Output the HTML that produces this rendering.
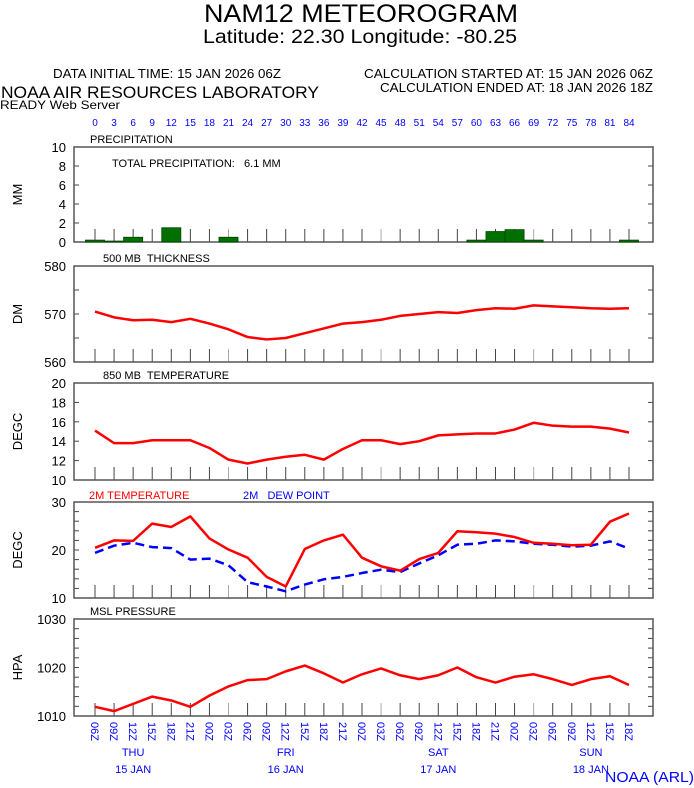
<!DOCTYPE html>
<html><head><meta charset="utf-8"><style>
body{margin:0;background:#fff}
svg{display:block;font-family:"Liberation Sans",Arial,sans-serif}
svg text{white-space:pre}
</style></head><body>
<svg id="chart" width="694" height="788" viewBox="0 0 694 788" xmlns="http://www.w3.org/2000/svg">
<text x="204" y="22" font-size="25" textLength="314" lengthAdjust="spacingAndGlyphs">NAM12 METEOROGRAM</text>
<text x="203" y="43" font-size="19" textLength="314" lengthAdjust="spacingAndGlyphs">Latitude: 22.30 Longitude: -80.25</text>
<text x="53" y="78" font-size="13" textLength="228" lengthAdjust="spacingAndGlyphs">DATA INITIAL TIME: 15 JAN 2026 06Z</text>
<text x="364" y="78" font-size="13" textLength="289" lengthAdjust="spacingAndGlyphs">CALCULATION STARTED AT: 15 JAN 2026 06Z</text>
<text x="380" y="92" font-size="13" textLength="273" lengthAdjust="spacingAndGlyphs">CALCULATION ENDED AT: 18 JAN 2026 18Z</text>
<text x="1" y="98" font-size="17" textLength="318" lengthAdjust="spacingAndGlyphs">NOAA AIR RESOURCES LABORATORY</text>
<text x="0" y="109" font-size="12" textLength="120" lengthAdjust="spacingAndGlyphs">READY Web Server</text>
<text x="605" y="782" font-size="15" fill="#0000ff" textLength="89" lengthAdjust="spacingAndGlyphs">NOAA (ARL)</text>
<g id="g"></g>
</svg>
<script>
const hours=[0,3,6,9,12,15,18,21,24,27,30,33,36,39,42,45,48,51,54,57,60,63,66,69,72,75,78,81,84];
const precip=[0.2,0.1,0.5,0,1.5,0,0,0.5,0,0,0,0,0,0,0,0,0,0,0,0,0.2,1.1,1.3,0.2,0,0,0,0,0.2];
const thickness=[570.5,569.3,568.7,568.8,568.3,569.0,568.0,566.8,565.2,564.7,565.0,566.0,567.0,568.0,568.3,568.8,569.6,570.0,570.4,570.2,570.8,571.2,571.1,571.8,571.6,571.4,571.2,571.1,571.2];
const temp850=[15.1,13.8,13.8,14.1,14.1,14.1,13.3,12.1,11.7,12.1,12.4,12.6,12.1,13.2,14.1,14.1,13.7,14.0,14.6,14.7,14.8,14.8,15.2,15.9,15.6,15.5,15.5,15.3,14.9];
const temp2m=[20.45,22.0,21.9,25.5,24.8,27.0,22.4,20.1,18.4,14.4,12.4,20.2,22.0,23.2,18.4,16.6,15.7,18.1,19.4,23.9,23.7,23.4,22.7,21.5,21.3,21.0,21.1,25.9,27.6];
const dew2m=[19.4,20.9,21.5,20.6,20.4,18.0,18.2,16.8,13.3,12.4,11.4,12.8,13.9,14.4,15.2,15.9,15.4,17.2,18.9,21.1,21.3,22.0,21.8,21.3,21.1,20.7,20.9,21.8,20.3];
const mslp=[1011.9,1011.0,1012.5,1014.0,1013.2,1011.9,1014.2,1016.1,1017.4,1017.6,1019.2,1020.4,1018.8,1016.9,1018.6,1019.8,1018.4,1017.6,1018.4,1020.0,1018.0,1016.9,1018.1,1018.6,1017.6,1016.4,1017.6,1018.2,1016.4];
const dayLabels=["THU","FRI","SAT","SUN"];
const dateLabels=["15 JAN","16 JAN","17 JAN","18 JAN"];
const dayHours=[6,30,54,78];

const NS="http://www.w3.org/2000/svg";
const G=document.getElementById('g');
const L=74,R=653;
function xs(h){return 95+h*(629-95)/84;}
function mk(tag,attrs,parent){const e=document.createElementNS(NS,tag);for(const k in attrs)e.setAttribute(k,attrs[k]);(parent||G).appendChild(e);return e;}
function txt(x,y,s,size,fill,anchor,parent){const t=mk('text',{x:x,y:y,'font-size':size,fill:fill||'#000','text-anchor':anchor||'start'},parent);t.textContent=s;return t;}

hours.forEach(h=>{const t=txt(xs(h),126,String(h),10,'#0000ff','middle');

});

function panel(name,top,bot,min,max,ticks,minorStep,unit,title){
  const g=mk('g',{});
  
  
  const ys=v=>bot-(v-min)/(max-min)*(bot-top);
  hours.forEach(h=>{mk('line',{x1:xs(h),x2:xs(h),y1:bot,y2:bot-13,stroke:(h%24==21)?'#aaa':'#444','stroke-width':1},g);});
  for(let v=min;v<=max+1e-9;v+=minorStep){mk('line',{x1:L,x2:L+5,y1:ys(v),y2:ys(v),stroke:'#444'},g);mk('line',{x1:R-5,x2:R,y1:ys(v),y2:ys(v),stroke:'#444'},g);}
  mk('rect',{x:L,y:top,width:R-L,height:bot-top,fill:'none',stroke:'#555','stroke-width':1.5},g);
  ticks.forEach(v=>{const t=txt(L-8,ys(v)+5,String(v),13,'#000','end',g);
  
  });
  const u=txt(0,0,unit,13,'#000','middle',g);
  u.setAttribute('transform','translate(22,'+((top+bot)/2)+') rotate(-90)');
  
  
  if(title){const tt=txt(title[1],top-4,title[0],11,'#000','start',g);
  
  }
  return {g,ys};
}
function line(p,vals,color,dash,nm){
  const pts=hours.map((h,i)=>xs(h)+','+p.ys(vals[i])).join(' ');
  const e=mk('polyline',{points:pts,fill:'none',stroke:color,'stroke-width':2.5,'stroke-dasharray':dash||'none','stroke-linejoin':'round'},p.g);
  
  
}

const p1=panel('precipitation',147,242,0,10,[0,2,4,6,8,10],2,'MM',['PRECIPITATION',90]);
const bw=(629-95)/28;
hours.forEach((h,i)=>{if(precip[i]<=0)return;const y=p1.ys(precip[i]);
const b=mk('rect',{x:xs(h)-bw/2,y:y,width:bw,height:242-y,fill:'#007000',stroke:'#004400','stroke-width':0.8},p1.g);

});
const tp=txt(112,167,'TOTAL PRECIPITATION:   6.1 MM',11,'#000','start',p1.g);



const p2=panel('thickness',266,362,560,580,[560,570,580],5,'DM',['500 MB  THICKNESS',103]);
line(p2,thickness,'#ff0000',null,'thickness-line');
const p3=panel('temp850',383,480,10,20,[10,12,14,16,18,20],2,'DEGC',['850 MB  TEMPERATURE',103]);
line(p3,temp850,'#ff0000',null,'temp850-line');
const p4=panel('surface',502,598,10,30,[10,20,30],2,'DEGC',null);
line(p4,dew2m,'#0000ff','9,5','dewpoint-line');
line(p4,temp2m,'#ff0000',null,'temperature-line');
const l1=txt(89,499,'2M TEMPERATURE',11,'#ff0000','start',p4.g);


const l2=txt(243,499,'2M   DEW POINT',11,'#0000ff','start',p4.g);


const p5=panel('pressure',619,716,1010,1030,[1010,1020,1030],2,'HPA',['MSL PRESSURE',90]);
line(p5,mslp,'#ff0000',null,'pressure-line');

hours.forEach(h=>{const hh=String((6+h)%24).padStart(2,'0')+'Z';
const t=txt(0,0,hh,11,'#0000ff','start');
t.setAttribute('transform','translate('+(xs(h)-4)+',722) rotate(90)');

});
dayLabels.forEach((d,i)=>{
  const x=xs(dayHours[i]);
  const a=txt(x,756,d,11,'#0000ff','middle');
  
  
  const b=txt(x,773,dateLabels[i],11,'#0000ff','middle');
  
  
});
</script>
</body></html>
